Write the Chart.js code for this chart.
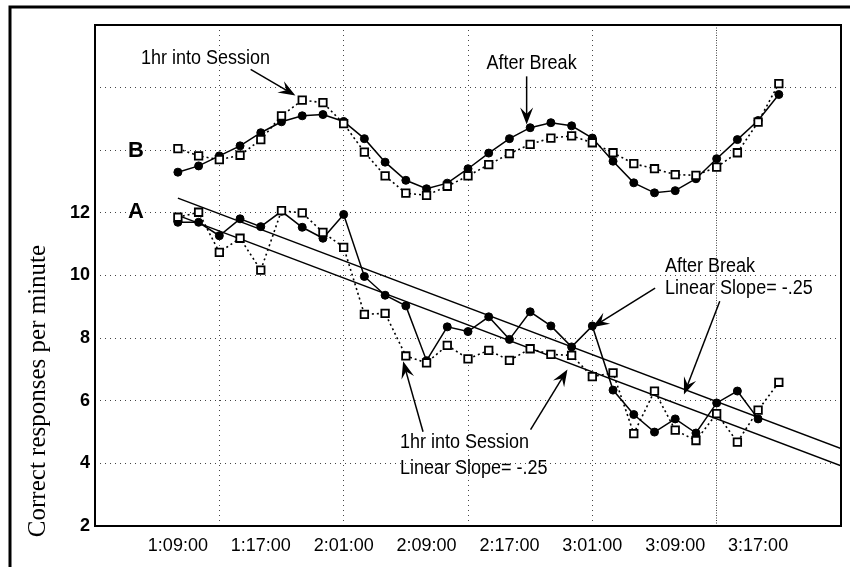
<!DOCTYPE html>
<html><head><meta charset="utf-8">
<script src="https://cdn.jsdelivr.net/npm/chart.js@4"></script>
<style>html,body{margin:0;padding:0;background:#fff;}canvas{display:block;}</style>
</head><body>
<canvas id="c" width="850" height="567"></canvas>
<script>
// ---- data ----
const tickLabels = ["1:09:00","1:17:00","2:01:00","2:09:00","2:17:00","3:01:00","3:09:00","3:17:00"];
const labelPositions = [0,4,8,12,16,20,24,28];
const gridPositions = [-4,2,8,14,20,26,32];
const sessionIndex = [0,1,2,3,4,5,6,7,8,9,10,11,12,13,14,15,16,17,18,19,20,21,22,23,24,25,26,27,28,29];
// B task
const bAfterBreak = [13.30,13.50,13.82,14.14,14.56,14.91,15.10,15.14,14.92,14.37,13.62,13.04,12.77,12.95,13.41,13.91,14.37,14.72,14.88,14.78,14.39,13.65,12.96,12.64,12.71,13.09,13.73,14.34,14.95,15.78];
const bOneHour    = [14.05,13.82,13.70,13.84,14.34,15.10,15.60,15.52,14.85,13.94,13.18,12.63,12.56,12.85,13.18,13.54,13.89,14.19,14.39,14.46,14.24,13.92,13.57,13.41,13.22,13.20,13.46,13.92,14.90,16.13];
// A task
const aAfterBreak = [11.70,11.70,11.27,11.81,11.56,12.05,11.54,11.19,11.95,9.97,9.37,9.03,7.28,8.36,8.21,8.68,7.96,8.84,8.39,7.72,8.39,6.34,5.56,5.00,5.42,4.97,5.93,6.31,5.42,null];
const aOneHour    = [11.86,12.02,10.74,11.19,10.17,12.07,12.00,11.38,10.90,8.76,8.79,7.43,7.21,7.77,7.34,7.61,7.29,7.66,7.48,7.45,6.77,6.89,4.95,6.31,5.06,4.73,5.59,4.68,5.70,6.59];
// linear fits (end points)
const fitX = [0, 32];
const fitAfterBreak = [12.47, 4.47];
const fitOneHour = [11.92, 3.92];

const FONT = '"Liberation Sans", Arial, sans-serif';
const toXY = (xs, ys) => xs.map((x,i) => ({x, y: ys[i]}));
const allTicks = Array.from(new Set([...gridPositions, ...labelPositions])).sort((a,b)=>a-b);
const gridSet = new Set(gridPositions);

const circleDs = (data) => ({
  data: toXY(sessionIndex, data), borderColor:'#000', borderWidth:1.5, backgroundColor:'#000',
  pointStyle:'circle', pointRadius:4, pointBorderWidth:1, pointBackgroundColor:'#000', tension:0, order:1, spanGaps:false
});
const squareDs = (data) => ({
  data: toXY(sessionIndex, data), borderColor:'#000', borderWidth:1.6, borderDash:[2,3],
  pointStyle:'rect', pointRadius:5.3, pointBorderWidth:1.8, pointBackgroundColor:'#fff', pointBorderColor:'#000', tension:0, order:0
});
const fitDs = (data) => ({
  data: toXY(fitX, data), borderColor:'#000', borderWidth:1.5, pointRadius:0, tension:0, order:2
});

const annotations = {
  texts: [
    {t:'1hr into Session', x:-1.78, y:16.94, align:'left'},
    {t:'After Break', x:17.07, y:16.78, align:'center'},
    {t:'After Break', x:23.51, y:10.30, align:'left'},
    {t:'Linear Slope= -.25', x:23.51, y:9.60, align:'left'},
    {t:'1hr into Session', x:10.72, y:4.66, align:'left'},
    {t:'Linear Slope= -.25', x:10.72, y:3.83, align:'left'}
  ],
  letters: [ {t:'B', x:-2.02, y:13.99}, {t:'A', x:-2.02, y:12.03} ],
  arrows: [
    [3.51,16.58, 5.67,15.75],
    [16.83,16.36, 16.83,14.82],
    [23.03,9.60, 20.0,8.35],
    [26.15,9.18, 24.42,6.20],
    [11.83,5.01, 10.87,7.26],
    [17.02,5.08, 18.8,7.0]
  ]
};

function drawArrow(ctx, x1,y1,x2,y2){
  const a = Math.atan2(y2-y1, x2-x1), c = Math.cos(a), s = Math.sin(a);
  const L = 17, W = 6.5;
  ctx.beginPath(); ctx.moveTo(x1,y1); ctx.lineTo(x2-c*L*0.6, y2-s*L*0.6);
  ctx.lineWidth = 1.5; ctx.strokeStyle='#000'; ctx.stroke();
  ctx.beginPath(); ctx.moveTo(x2,y2);
  ctx.lineTo(x2-c*L - s*W, y2-s*L + c*W);
  ctx.lineTo(x2-c*L*0.62, y2-s*L*0.62);
  ctx.lineTo(x2-c*L + s*W, y2-s*L - c*W);
  ctx.closePath(); ctx.fillStyle='#000'; ctx.fill();
}

const decor = {
  id:'decor',
  beforeDraw(chart){
    const ctx = chart.ctx;
    ctx.save(); ctx.fillStyle='#fff'; ctx.fillRect(0,0,chart.width,chart.height);
    ctx.strokeStyle='#000'; ctx.lineWidth=3;
    ctx.beginPath(); ctx.moveTo(10,chart.height); ctx.lineTo(10,7); ctx.lineTo(chart.width,7); ctx.stroke();
    ctx.restore();
  },
  afterDraw(chart){
    const ctx = chart.ctx, xs = chart.scales.x, ys = chart.scales.y, ca = chart.chartArea;
    ctx.save();
    ctx.strokeStyle='#000'; ctx.lineWidth=2;
    ctx.strokeRect(ca.left, ca.top, ca.right-ca.left, ca.bottom-ca.top);
    ctx.fillStyle='#000'; ctx.textBaseline='middle';
    ctx.font = '20px ' + FONT;
    annotations.texts.forEach(o => {
      ctx.save(); ctx.translate(xs.getPixelForValue(o.x), ys.getPixelForValue(o.y)); ctx.scale(0.9,1);
      ctx.textAlign = o.align; ctx.fillText(o.t, 0, 0); ctx.restore();
    });
    ctx.font = 'bold 22px ' + FONT; ctx.textAlign='center';
    annotations.letters.forEach(o => ctx.fillText(o.t, xs.getPixelForValue(o.x), ys.getPixelForValue(o.y)));
    annotations.arrows.forEach(a => drawArrow(ctx, xs.getPixelForValue(a[0]), ys.getPixelForValue(a[1]), xs.getPixelForValue(a[2]), ys.getPixelForValue(a[3])));
    // y axis title
    ctx.save(); ctx.translate(45, 391); ctx.rotate(-Math.PI/2);
    ctx.font = '25px "Liberation Serif", "Times New Roman", serif'; ctx.textAlign='center'; ctx.textBaseline='alphabetic';
    ctx.fillText('Correct responses per minute', 0, 0); ctx.restore();
    ctx.restore();
  }
};

new Chart(document.getElementById('c'), {
  type:'line',
  data:{ datasets:[ squareDs(bOneHour), squareDs(aOneHour), circleDs(bAfterBreak), circleDs(aAfterBreak), fitDs(fitAfterBreak), fitDs(fitOneHour) ] },
  options:{
    responsive:false, animation:false, devicePixelRatio:1,
    layout:{ padding:{ left:0, right:7, top:25, bottom:0 } },
    plugins:{ legend:{display:false}, tooltip:{enabled:false} },
    scales:{
      x:{ type:'linear', min:-4, max:32,
        afterBuildTicks: s => { s.ticks = allTicks.map(v => ({value:v})); },
        afterFit: s => { s.height = 41; },
        grid:{ drawTicks:false, lineWidth:1, color: c => (c.tick && gridSet.has(c.tick.value) && c.tick.value > -4 && c.tick.value < 32) ? '#444' : 'rgba(0,0,0,0)' },
        border:{ display:false, dash: c => (c.tick && c.tick.value === 26) ? [1,1.5] : [1,4] },
        ticks:{ autoSkip:false, maxRotation:0, minRotation:0, padding:9, color:'#000', font:{family:FONT, size:18},
          callback: v => { const k = labelPositions.indexOf(v); return k >= 0 ? tickLabels[k] : ''; } }
      },
      y:{ type:'linear', min:2, max:18,
        afterFit: s => { s.width = 95; },
        grid:{ drawTicks:false, lineWidth:1, color: c => (c.tick && c.tick.value > 2 && c.tick.value < 18) ? '#444' : 'rgba(0,0,0,0)' },
        border:{ display:false, dash:[1,4] },
        ticks:{ stepSize:2, padding:5, color:'#000', font:{family:FONT, size:18, weight:'bold'},
          callback: v => v <= 12 ? String(v) : '' }
      }
    }
  },
  plugins:[decor]
});
</script>
</body></html>
